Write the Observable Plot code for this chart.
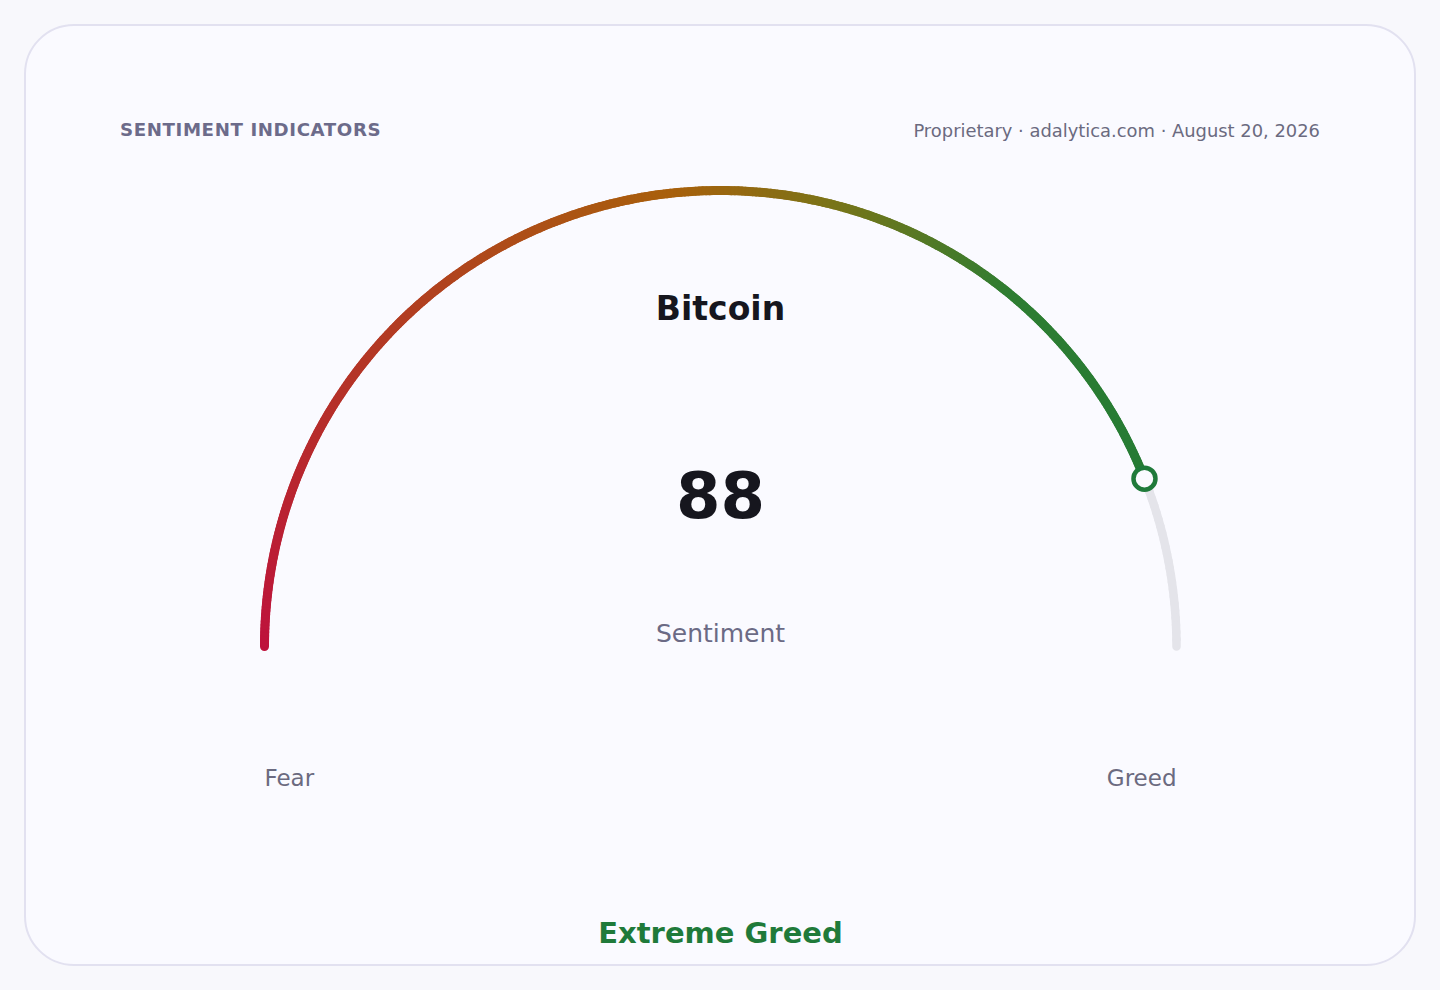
<!DOCTYPE html>
<html><head><meta charset="utf-8">
<script src="https://cdn.jsdelivr.net/npm/d3@7"></script>
<script src="https://cdn.jsdelivr.net/npm/@observablehq/plot@0.6"></script>
<style>
html,body{margin:0;padding:0;background:#f8f8fc;width:1440px;height:990px;overflow:hidden;font-family:"DejaVu Sans",sans-serif;}
#card{position:absolute;left:24px;top:24px;width:1388px;height:938px;border:2px solid #e2e1f0;border-radius:50px;background:#fafaff;}
#hl{position:absolute;left:120px;top:119px;font-size:18.2px;font-weight:bold;letter-spacing:0.6px;color:#6c6b8a;}
#hr{position:absolute;right:120px;top:120px;font-size:17.9px;color:#6b6a80;}
#chart{position:absolute;left:0;top:0;}
</style></head>
<body>
<div id="card"></div>
<div id="hl"></div>
<div id="hr"></div>
<div id="chart"></div>
<script>
const sectionTitle = "SENTIMENT INDICATORS";
const sourceText = "Proprietary · adalytica.com · August 20, 2026";
const assetName = "Bitcoin";
const metricLabel = "Sentiment";
const sentimentValue = 88;
const scaleEnds = ["Fear", "Greed"];
const scaleMin = 0, scaleMax = 100;
const verdict = "Extreme Greed";
const gradientStops = [0, 47, 58, 72, 100];
const gradientColors = ["#be123c", "#a8600c", "#7a7418", "#2e7d32", "#1f7a36"];

document.getElementById("hl").textContent = sectionTitle;
document.getElementById("hr").textContent = sourceText;

const col = d3.scaleLinear().domain(gradientStops).range(gradientColors).interpolate(d3.interpolateRgb).clamp(true);
const pos = v => { const a = Math.PI * (1 - (v - scaleMin) / (scaleMax - scaleMin)); return [Math.cos(a), Math.sin(a)]; };
function segs(a, b, step) {
  const out = [];
  for (let v = a; v < b - 1e-9; v += step) {
    const w = Math.min(b, v + step);
    const p = pos(v), q = pos(w);
    out.push({x1: p[0], y1: p[1], x2: q[0], y2: q[1], v: (v + w) / 2});
  }
  return out;
}
const track = segs(sentimentValue, scaleMax, 0.5);
const filled = segs(scaleMin, sentimentValue, 0.25);
const mp = pos(sentimentValue);

const plot = Plot.plot({
  width: 1440, height: 990,
  marginLeft: 264, marginRight: 264, marginTop: 190, marginBottom: 344,
  x: {domain: [-1, 1], axis: null},
  y: {domain: [0, 1], axis: null},
  style: {background: "transparent", fontFamily: "DejaVu Sans, sans-serif", overflow: "visible"},
  marks: [
    Plot.link(track, {x1: "x1", y1: "y1", x2: "x2", y2: "y2", stroke: "#e4e4ea", strokeWidth: 8.5, strokeLinecap: "round"}),
    Plot.link(filled, {x1: "x1", y1: "y1", x2: "x2", y2: "y2", stroke: d => col(d.v), strokeWidth: 9, strokeLinecap: "round"}),
    Plot.dot([{x: mp[0], y: mp[1]}], {x: "x", y: "y", r: 11, stroke: "#1f7a3a", strokeWidth: 4.5, fill: "#fafaff"}),
    Plot.text([assetName], {x: 0, y: 0.739, text: d => d, fontSize: 33, fontWeight: "bold", fill: "#16161e"}),
    Plot.text([String(sentimentValue)], {x: 0, y: 0.327, text: d => d, fontSize: 64, fontWeight: "bold", fill: "#16161e"}),
    Plot.text([metricLabel], {x: 0, y: 0.028, text: d => d, fontSize: 25, fill: "#6b6a85"}),
    Plot.text([scaleEnds[0]], {x: -1, y: -0.289, text: d => d, fontSize: 23, fill: "#6b6a80", textAnchor: "start"}),
    Plot.text([scaleEnds[1]], {x: 1, y: -0.289, text: d => d, fontSize: 23, fill: "#6b6a80", textAnchor: "end"}),
    Plot.text([verdict], {x: 0, y: -0.629, text: d => d, fontSize: 29, fontWeight: "bold", fill: "#1f7a3a", letterSpacing: 0.5})
  ]
});
document.getElementById("chart").appendChild(plot);
</script>
</body></html>
